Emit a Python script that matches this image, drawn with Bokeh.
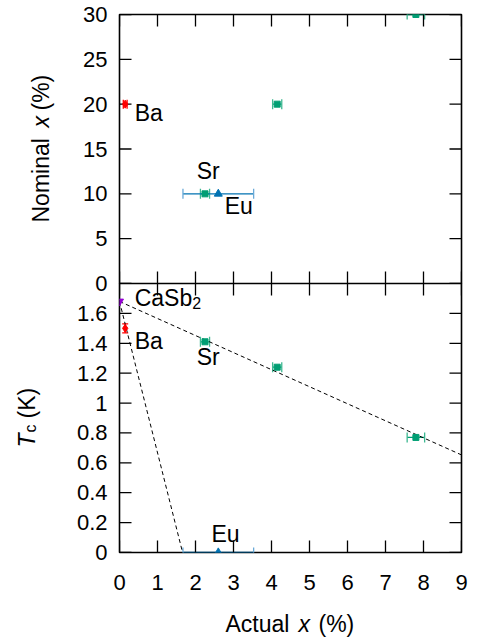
import numpy as np
from math import pi
from bokeh.plotting import figure
from bokeh.models import ColumnDataSource, Whisker, TeeHead, FixedTicker, Label
from bokeh.core.properties import value
from bokeh.layouts import column
from bokeh.embed import file_html
from bokeh.resources import INLINE

# ---------------- data ----------------
x_ticks = [0, 1, 2, 3, 4, 5, 6, 7, 8, 9]
nominal_ticks = [0, 5, 10, 15, 20, 25, 30]
tc_ticks = [0, 0.2, 0.4, 0.6, 0.8, 1, 1.2, 1.4, 1.6]
tc_tick_labels = ["0", "0.2", "0.4", "0.6", "0.8", "1", "1.2", "1.4", "1.6"]

ba_actual = [0.15]
ba_actual_err = [0.05]
ba_nominal = [20]
ba_tc = [1.50]
ba_tc_err = [0.03]

sr_actual = [2.25, 4.15, 7.80]
sr_actual_err = [0.12, 0.12, 0.23]
sr_nominal = [10, 20, 30]
sr_tc = [1.41, 1.24, 0.77]

eu_actual = [2.6]
eu_actual_err = [0.93]
eu_nominal = [10]
eu_tc = [0.0]

casb2_actual = [0.0]
casb2_tc = [1.68]

fit_sr_x = [0.0, 9.0]
fit_sr_tc = [1.68, 0.653]
fit_ba_x = [0.0, 1.66]
fit_ba_tc = [1.68, 0.0]

# ---------------- style ----------------
FONT = "Liberation Sans"
TICK_FS = "22px"
LAB_FS = "23px"
RED = "#FF0000"
GREEN = "#009E73"
GREEN_L = "#3DB891"
BLUE = "#0072B2"
BLUE_L = "#6AAAD8"
PURPLE = "#9400D3"

W = 469
LEFT = 119
RIGHT = 8
FRAME_W = W - LEFT - RIGHT
FRAME_H = 269
TICK_LEN = 12
BASE_FIX = 9   # rendered baseline sits this many px below the requested one


def style_axis(ax, ticks, standoff, overrides=None):
    ax.ticker = FixedTicker(ticks=ticks)
    ax.minor_tick_line_color = None
    ax.major_tick_in = 0
    ax.major_tick_out = 0
    ax.major_tick_line_color = None
    ax.axis_line_color = None
    ax.axis_label = None
    ax.major_label_standoff = standoff
    ax.major_label_text_font = FONT
    ax.major_label_text_font_size = TICK_FS
    ax.major_label_text_color = "black"
    if overrides:
        ax.major_label_overrides = overrides


def inward_ticks(p, xt, yt, xr, yr):
    # mirrored inward tick marks on all four spines (tick length converted to data units)
    x0, x1 = xr
    y0, y1 = yr
    dx = TICK_LEN * (x1 - x0) / FRAME_W
    dy = TICK_LEN * (y1 - y0) / FRAME_H
    xt = np.array(xt, dtype=float)
    yt = np.array(yt, dtype=float)
    kw = dict(line_color="black", line_width=1.3)
    p.segment(x0=xt, y0=np.full_like(xt, y0), x1=xt, y1=np.full_like(xt, y0 + dy), **kw)
    p.segment(x0=xt, y0=np.full_like(xt, y1), x1=xt, y1=np.full_like(xt, y1 - dy), **kw)
    p.segment(x0=np.full_like(yt, x0), y0=yt, x1=np.full_like(yt, x0 + dx), y1=yt, **kw)
    p.segment(x0=np.full_like(yt, x1), y0=yt, x1=np.full_like(yt, x1 - dx), y1=yt, **kw)


def make_fig(height, y_range, border_top, border_bottom, show_x):
    p = figure(width=W, height=height, x_range=(0, 9), y_range=y_range,
               output_backend="svg", toolbar_location=None,
               min_border_left=LEFT, min_border_right=RIGHT,
               min_border_top=border_top, min_border_bottom=border_bottom)
    p.grid.visible = False
    p.outline_line_color = "black"
    p.outline_line_width = 1.6
    p.background_fill_color = "white"
    p.border_fill_alpha = 0
    if not show_x:
        p.xaxis.visible = False
    return p


def xerr(p, x, err, y, color, cap_color, size=10):
    src = ColumnDataSource(dict(y=y, lo=np.array(x) - np.array(err), hi=np.array(x) + np.array(err)))
    p.add_layout(Whisker(source=src, base="y", lower="lo", upper="hi", dimension="width",
                         line_color=color, line_width=1.3,
                         upper_head=TeeHead(size=size, line_color=cap_color, line_width=1.3),
                         lower_head=TeeHead(size=size, line_color=cap_color, line_width=1.3)))


def yerr(p, x, y, err, color, size=6):
    src = ColumnDataSource(dict(x=x, lo=np.array(y) - np.array(err), hi=np.array(y) + np.array(err)))
    p.add_layout(Whisker(source=src, base="x", lower="lo", upper="hi", dimension="height",
                         line_color=color, line_width=1.3,
                         upper_head=TeeHead(size=size, line_color=color, line_width=1.3),
                         lower_head=TeeHead(size=size, line_color=color, line_width=1.3)))


def lab(p, x, y, text, xo=0, yo=0, size=LAB_FS):
    p.add_layout(Label(x=x, y=y, x_offset=xo, y_offset=yo + BASE_FIX, text=text,
                       text_font=FONT, text_font_size=size,
                       text_color="black", text_align="left", text_baseline="alphabetic"))


# ---------------- top panel: nominal vs actual ----------------
P1_TOP, P1_BOT = 14, 14
p1 = make_fig(P1_TOP + FRAME_H + P1_BOT, (0, 30), P1_TOP, P1_BOT, False)
style_axis(p1.yaxis[0], nominal_ticks, 12)
inward_ticks(p1, x_ticks, nominal_ticks, (0, 9), (0, 30))

xerr(p1, sr_actual, sr_actual_err, sr_nominal, GREEN, GREEN_L)
p1.scatter(sr_actual, sr_nominal, marker="square", size=6, color=GREEN)
xerr(p1, eu_actual, eu_actual_err, eu_nominal, BLUE, BLUE_L)
p1.scatter(eu_actual, eu_nominal, marker="triangle", size=8, color=BLUE)
xerr(p1, ba_actual, ba_actual_err, ba_nominal, RED, RED, size=9)
p1.scatter(ba_actual, ba_nominal, marker="diamond", size=8, color=RED)

lab(p1, 0.4, 18, "Ba")
lab(p1, 2.03, 11.5, "Sr")
lab(p1, 2.77, 7.6, "Eu")

# ---------------- bottom panel: Tc vs actual ----------------
P2_BOT = 87
p2 = make_fig(FRAME_H + P2_BOT, (0, 1.8), 0, P2_BOT, True)
style_axis(p2.yaxis[0], tc_ticks, 12, {t: s for t, s in zip(tc_ticks, tc_tick_labels)})
style_axis(p2.xaxis[0], x_ticks, 22)
inward_ticks(p2, x_ticks, tc_ticks, (0, 9), (0, 1.8))

p2.line(fit_sr_x, fit_sr_tc, line_color="black", line_dash="4 3", line_width=1)
p2.line(fit_ba_x, fit_ba_tc, line_color="black", line_dash="4 3", line_width=1)

xerr(p2, sr_actual, sr_actual_err, sr_tc, GREEN, GREEN_L)
p2.scatter(sr_actual, sr_tc, marker="square", size=6, color=GREEN)
xerr(p2, eu_actual, eu_actual_err, eu_tc, BLUE, BLUE_L)
p2.scatter(eu_actual, eu_tc, marker="triangle", size=8, color=BLUE)
yerr(p2, ba_actual, ba_tc, ba_tc_err, RED)
p2.scatter(ba_actual, ba_tc, marker="diamond", size=8, color=RED)
p2.scatter(casb2_actual, casb2_tc, marker="inverted_triangle", size=8, color=PURPLE)

lab(p2, 0.4, 1.64, "CaSb")
lab(p2, 0.4, 1.64, "2", xo=57.5, yo=-5, size="16px")
lab(p2, 0.4, 1.353, "Ba")
lab(p2, 2.03, 1.247, "Sr")
lab(p2, 2.42, 0.062, "Eu")
p2.margin = (-P1_BOT, 0, 0, 0)

# ---------------- transparent overlay carrying the axis titles ----------------
OV_H = p1.height - P1_BOT + p2.height
ov = figure(width=W, height=OV_H, x_range=(0, W), y_range=(0, OV_H),
            output_backend="svg", toolbar_location=None,
            x_axis_type=None, y_axis_type=None,
            min_border_left=0, min_border_right=0, min_border_top=0, min_border_bottom=0)
ov.frame_align = False
ov.grid.visible = False
ov.outline_line_color = None
ov.background_fill_alpha = 0
ov.border_fill_alpha = 0
ov.margin = (-OV_H, 0, 0, 0)


def page(xp, yp):
    # page pixel (top-left origin) -> overlay data coordinate
    return xp, OV_H - yp


def title_piece(xp, yp, text, size=LAB_FS, style="normal", angle=0.0):
    x, y = page(xp, yp)
    ov.text(x=[x], y=[y], text=[text], angle=angle,
            text_font=value(FONT), text_font_size=value(size), text_font_style=style,
            text_color="black", text_align="left", text_baseline="alphabetic")


# "Nominal x (%)" (rotated, baseline on the right)
title_piece(49 - BASE_FIX, 222, "Nominal", angle=pi / 2)
title_piece(49 - BASE_FIX, 127, "x", style="italic", angle=pi / 2)
title_piece(49 - BASE_FIX, 110, "(%)", angle=pi / 2)
# "Tc (K)" (rotated)
title_piece(35 - BASE_FIX, 447, "T", style="italic", angle=pi / 2)
title_piece(39 - BASE_FIX, 432, "c", size="16px", angle=pi / 2)
title_piece(35 - BASE_FIX, 418, "(K)", angle=pi / 2)
# "Actual x (%)"
title_piece(225, 632 - BASE_FIX, "Actual")
title_piece(298, 632 - BASE_FIX, "x", style="italic")
title_piece(318, 632 - BASE_FIX, "(%)")

layout = column(p1, p2, ov, spacing=0)
open("out.html", "w").write(file_html(layout, INLINE))
